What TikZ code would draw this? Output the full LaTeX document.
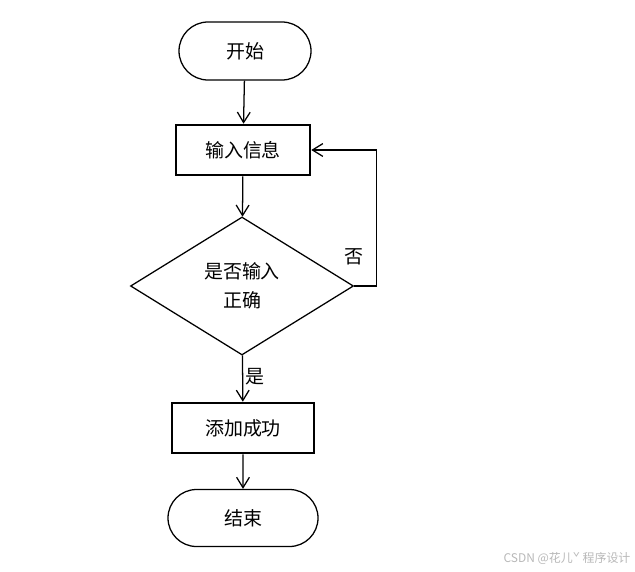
\documentclass[tikz,border=0pt]{standalone}
\usepackage{fontspec}
\setmainfont{Noto Sans CJK SC}
\usetikzlibrary{arrows.meta,shapes.geometric,shapes.misc}

\begin{document}
\begin{tikzpicture}[x=0.025cm,y=-0.025cm,font=\fontsize{13.5}{20.5}\selectfont]
\tikzstyle{term} = [rounded rectangle, draw, line width=0.9pt, inner sep=0pt, minimum height=58*0.025cm]
\tikzstyle{block} = [rectangle, draw, line width=1.8pt, inner sep=0pt, minimum height=50*0.025cm]
\tikzstyle{decision} = [diamond, draw, line width=0.9pt, inner sep=0pt, align=center, minimum width=223*0.025cm, minimum height=138*0.025cm]
\tikzstyle{arrow} = [-{Straight Barb[length=2.6mm, width=3.2mm, line width=0.9pt]}, line width=0.9pt]
\useasboundingbox (0,0) rectangle (635,571);
\node[term, minimum width=132*0.025cm] (start) at (245,51) {开始};
\node[block, minimum width=134*0.025cm] (input) at (243,150) {输入信息};
\node[decision] (check) at (242,286) {是否输入\\正确};
\node[block, minimum width=142*0.025cm] (add) at (243,428) {添加成功};
\node[term, minimum width=150*0.025cm, minimum height=57*0.025cm] (stop) at (243,518) {结束};
\draw[arrow] (start) -- (input);
\draw[arrow] (input) -- (check);
\draw[arrow] (check) -- (add);
\draw[arrow] (add) -- (stop);
\draw[arrow] (check.east) -- ++(22,0) |- (input.east);
\node (no) at (354,257) {否};
\node (yes) at (255,377) {是};
\node[text=black!28, font=\fontsize{8.5}{10}\selectfont] (mark) at (567,558) {CSDN @花儿ˇ 程序设计};
\end{tikzpicture}
\end{document}
